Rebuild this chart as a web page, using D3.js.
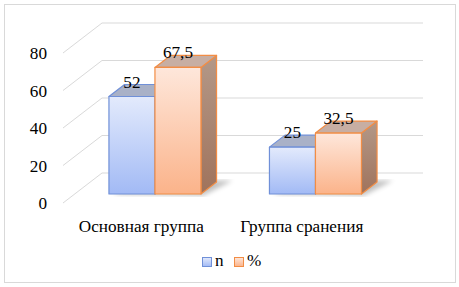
<!DOCTYPE html>
<html>
<head>
<meta charset="utf-8">
<script src="https://cdn.jsdelivr.net/npm/d3@7"></script>
</head>
<body style="margin:0">
<script>
// chart data
var categories = ["Основная группа", "Группа сранения"];
var seriesNames = ["n", "%"];
var nValues = [52, 25];
var pctValues = [67.5, 32.5];
var yTicks = [0, 20, 40, 60, 80];

var FONT = "Liberation Serif";
var width = 459, height = 287;
var svg = d3.select("body").append("svg").attr("width", width).attr("height", height);

// text is set at 20px and scaled down to ~17px
function label(sel, fx, fy) {
    return sel.attr("font-family", FONT).attr("font-size", 20)
        .attr("transform", function (d) { return "translate(" + fx(d) + "," + fy(d) + ") scale(0.86)"; });
}

// outer frame
svg.append("rect").attr("x", 4.5).attr("y", 4.5).attr("width", 451).attr("height", 278)
    .attr("fill", "#fff").attr("stroke", "#d9d9d9");

var defs = svg.append("defs");
function grad(id, c1, c2) {
    var g = defs.append("linearGradient").attr("id", id).attr("x1", 0).attr("y1", 0).attr("x2", 0).attr("y2", 1);
    g.append("stop").attr("offset", "0%").attr("stop-color", c1);
    g.append("stop").attr("offset", "100%").attr("stop-color", c2);
}
grad("gN", "#e3eafc", "#a2baf5");
grad("gP", "#fee7db", "#fbb38a");
grad("gPside", "#b39888", "#a0735c");
grad("gNside", "#9aa6c6", "#7f90bf");
defs.append("filter").attr("id", "blur").append("feGaussianBlur").attr("stdDeviation", 2.5);

var styles = {
    "n": { front: "url(#gN)", top: "#a9b1c7", side: "url(#gNside)", stroke: "#7090d8" },
    "%": { front: "url(#gP)", top: "#c7aea3", side: "url(#gPside)", stroke: "#f28d45" }
};

// 3d-ish projection: depth z in [0,1] shifts right and up
var DX = 39, DY = -30;
var x0 = d3.scaleBand().domain(categories).range([63, 384]);
var y = d3.scaleLinear().domain([0, 80]).range([203, 53]);
var x1 = d3.scaleBand().domain(seriesNames).range([0, 92]);
function p(x, v, z) { return [x + DX * z, y(v) + DY * z]; }
function pts(arr) { return arr.map(function (q) { return q.join(","); }).join(" "); }

// gridlines: back wall + left side diagonal
var grid = svg.append("g").attr("stroke", "#d9d9d9").attr("stroke-width", 1);
yTicks.forEach(function (t) {
    var a = p(x0.range()[0], t, 0), b = p(x0.range()[0], t, 1), c = p(x0.range()[1], t, 1);
    grid.append("polyline").attr("fill", "none").attr("points", pts([a, b, c]));
});

// y tick labels
label(svg.append("g").selectAll("text").data(yTicks).enter().append("text"),
      function () { return 47; }, function (d) { return y(d) + 6; })
    .attr("text-anchor", "end")
    .text(function (d) { return d; });

var zf = 0.3, zb = 0.7;
var rows = categories.map(function (c, i) {
    return { cat: c, values: [{ s: "n", v: nValues[i] }, { s: "%", v: pctValues[i] }] };
});

function poly(g, arr, fill, stroke) {
    g.append("polygon").attr("points", pts(arr))
        .attr("fill", fill).attr("stroke", stroke).attr("stroke-width", 1.2).attr("stroke-linejoin", "round");
}

// shadows on the floor
rows.forEach(function (r) {
    var left = x0(r.cat) + (x0.bandwidth() - 92) / 2;
    var right = left + 92;
    svg.append("polygon")
        .attr("points", pts([p(left + 4, 0, zf), p(right + 4, 0, zf - 0.05), p(right + 14, 0, zb + 0.05), p(left + 14, 0, zb)]))
        .attr("fill", "#000").attr("opacity", 0.25).attr("filter", "url(#blur)");
});

var bars = svg.append("g");
rows.forEach(function (r) {
    var left = x0(r.cat) + (x0.bandwidth() - 92) / 2;
    r.values.forEach(function (d) {
        var st = styles[d.s];
        var xa = left + x1(d.s), xb = xa + x1.bandwidth();
        var g = bars.append("g");
        poly(g, [p(xb, 0, zf), p(xb, d.v, zf), p(xb, d.v, zb), p(xb, 0, zb)], st.side, st.stroke);
        poly(g, [p(xa, d.v, zf), p(xb, d.v, zf), p(xb, d.v, zb), p(xa, d.v, zb)], st.top, st.stroke);
        poly(g, [p(xa, 0, zf), p(xb, 0, zf), p(xb, d.v, zf), p(xa, d.v, zf)], st.front, st.stroke);
    });
    // value labels, drawn after both bars
    r.values.forEach(function (d) {
        var xa = left + x1(d.s), xb = xa + x1.bandwidth();
        var q = p((xa + xb) / 2, d.v, zf);
        label(svg.append("text").datum(d), function () { return q[0]; }, function () { return q[1] - 9; })
            .attr("text-anchor", "middle")
            .text(String(d.v).replace(".", ","));
    });
});

// category labels
label(svg.append("g").selectAll("text").data(categories).enter().append("text"),
      function (d) { return x0(d) + x0.bandwidth() / 2 - 2; }, function () { return 232; })
    .attr("text-anchor", "middle")
    .text(function (d) { return d; });

// legend
var legend = svg.append("g");
var legendX = [202, 234];
seriesNames.forEach(function (s, i) {
    legend.append("rect").attr("x", legendX[i] + 0.5).attr("y", 257.5).attr("width", 9).attr("height", 9)
        .attr("fill", styles[s].front).attr("stroke", styles[s].stroke);
    label(legend.append("text").datum(s), function () { return legendX[i] + 13; }, function () { return 266; })
        .text(s);
});
</script>
</body>
</html>
